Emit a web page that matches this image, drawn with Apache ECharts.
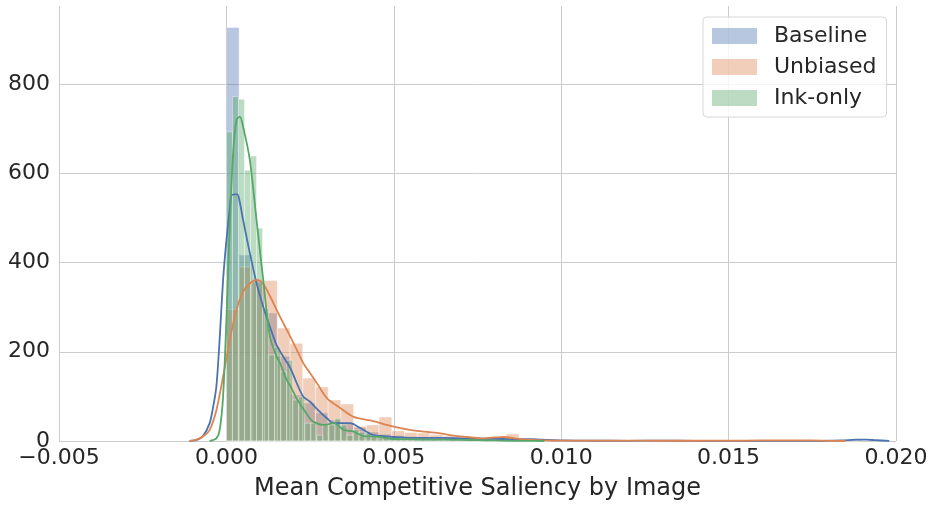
<!DOCTYPE html>
<html>
<head>
<meta charset="utf-8">
<script src="https://cdn.jsdelivr.net/npm/echarts@6/dist/echarts.min.js"></script>
<style>
  html, body { margin: 0; padding: 0; background: #fff; }
  #chart { width: 934px; height: 506px; }
</style>
</head>
<body>
<div id="chart"></div>
<script>
  // histogram heights (density), bins start at 0
  const seriesNames = ['Baseline', 'Unbiased', 'Ink-only']
  const baseBinWidth = 0.00038
  const baseHist = [927, 417, 355, 287, 190, 103, 85, 63, 47, 40, 30, 20, 15, 12, 10, 8, 6, 8, 7, 5,
    5, 4, 6, 4, 6, 3, 2, 2, 1, 1, 2, 1, 1, 0, 1, 0, 0, 0, 0, 0,
    0, 0, 0, 0, 0, 0, 0, 0, 1, 3]
  const unbBinWidth = 0.00038
  const unbHist = [295, 390, 362, 360, 253, 219, 141, 121, 92, 83, 33, 36, 54, 23, 19, 18, 14, 11, 9, 8,
    5, 6, 16, 3, 3, 2, 3, 2, 2, 1, 2, 1, 1, 1, 1, 0, 1, 1, 1, 2,
    2, 2, 2, 1, 1, 1]
  const inkBinWidth = 0.00018
  const inkHist = [693, 772, 766, 607, 639, 477, 297, 193, 211, 155, 181, 92, 99, 40, 40, 13, 36, 36, 51, 36,
    13, 25, 20, 18, 13, 11, 10, 8, 6, 5, 4, 6, 3, 2, 3, 2, 1, 2, 1, 1,
    1, 2, 1, 0, 1, 0, 0, 1, 0, 1]

  // kde curves
  const baseKdeX = [-0.0011, -0.0009, -0.0007, -0.0005, -0.0004, -0.0003, -0.0002, -0.0001, 0, 0.0001, 0.00015, 0.00025, 0.00033,
    0.0004, 0.0005, 0.0007, 0.0009, 0.0011, 0.0013, 0.0015, 0.0017, 0.0019, 0.0021, 0.0023, 0.0025, 0.0027,
    0.003, 0.0032, 0.0035, 0.0037, 0.004, 0.0042, 0.0044, 0.0047, 0.005, 0.0055, 0.006, 0.0065, 0.007, 0.0075,
    0.008, 0.0085, 0.009, 0.0095, 0.010, 0.0105, 0.011, 0.012, 0.013, 0.014, 0.015, 0.016, 0.017, 0.0178,
    0.0184, 0.0188, 0.0191, 0.0194, 0.0198]
  const baseKdeY = [0, 2, 11, 40, 75, 122, 230, 360, 450, 520, 551, 553, 553,
    535, 495, 421, 354, 301, 256, 215, 189, 165, 130, 99, 88, 72,
    51, 40, 40, 40, 29, 20, 13, 11, 9, 7, 7, 7, 6, 5,
    5, 4, 4, 2.5, 1.2, 0.8, 0.6, 0.5, 0.8, 0.3, 0.2, 0.1, 0.2, 0.5,
    1.5, 3, 3, 1.8, 0.3]
  const unbKdeX = [-0.0011, -0.0009, -0.0007, -0.0005, -0.0003, -0.0001, 0.0001, 0.0003, 0.0005, 0.0007, 0.0009,
    0.0011, 0.0013, 0.0015, 0.0017, 0.0019, 0.0021, 0.0023, 0.0025, 0.0027, 0.003, 0.0034, 0.0038, 0.0043,
    0.0049, 0.0054, 0.0059, 0.0064, 0.0068, 0.0072, 0.0076, 0.008, 0.0083, 0.0086, 0.009, 0.0095, 0.010,
    0.011, 0.012, 0.013, 0.014, 0.015, 0.016, 0.017, 0.0178, 0.0185]
  const unbKdeY = [0, 3, 10, 25, 69, 144, 226, 294, 335, 353, 361,
    352, 325, 294, 264, 235, 205, 174, 152, 130, 96, 74, 54, 46,
    34, 26, 21, 17, 12, 9, 6, 8, 9, 6, 3, 1.5, 1,
    0.8, 0.7, 0.6, 0.6, 0.8, 1.2, 1.4, 0.8, 0]
  const inkKdeX = [-0.0005, -0.0003, -0.0002, -0.0001, 0, 0.0001, 0.0002, 0.0003, 0.0004, 0.0005, 0.0007, 0.0009,
    0.0011, 0.0013, 0.0015, 0.0016, 0.0018, 0.0019, 0.0021, 0.0023, 0.0025, 0.0026, 0.0029, 0.0032, 0.0035,
    0.0038, 0.0041, 0.0045, 0.0049, 0.0055, 0.006, 0.0065, 0.007, 0.0075, 0.008, 0.0085, 0.009, 0.0095]
  const inkKdeY = [0, 6, 25, 99, 271, 480, 645, 719, 727, 704, 630, 495,
    361, 234, 189, 175, 137, 125, 95, 72, 50, 43, 36, 40, 25,
    21, 11, 10, 5, 4, 3, 3, 2.5, 2, 1.2, 0.6, 0.3, 0]

  const colors = ['#4C72B0', '#DD8452', '#55A868']
  const legendColors = ['rgba(76,114,176,0.4)', 'rgba(221,132,82,0.4)', 'rgba(85,168,104,0.4)']
  const textColor = '#262626'
  const gridColor = '#cccccc'

  function toBins(width, heights) {
    return heights.map((h, i) => [i * width, (i + 1) * width, h])
  }
  function zip(xs, ys) {
    return xs.map((x, i) => [x, ys[i]])
  }
  function histSeries(idx, data) {
    return {
      name: seriesNames[idx],
      type: 'custom',
      itemStyle: { color: legendColors[idx] },
      encode: { x: [0, 1], y: 2 },
      data: data,
      renderItem(params, api) {
        const h = api.value(2)
        if (!h) return null
        const p0 = api.coord([api.value(0), h])
        const p1 = api.coord([api.value(1), 0])
        return {
          type: 'rect',
          shape: { x: p0[0], y: p0[1], width: p1[0] - p0[0], height: p1[1] - p0[1] },
          style: { fill: colors[idx], stroke: '#ffffff', lineWidth: 1, opacity: 0.4 }
        }
      }
    }
  }
  function kdeSeries(idx, data) {
    return {
      type: 'line',
      data: data,
      smooth: 0.3,
      showSymbol: false,
      silent: true,
      lineStyle: { color: colors[idx], width: 1.8 },
      itemStyle: { color: colors[idx] }
    }
  }

  const chart = echarts.init(document.getElementById('chart'))
  chart.setOption({
    animation: false,
    textStyle: { fontFamily: 'DejaVu Sans' },
    grid: { left: 59, right: 38, top: 6, bottom: 65, outerBoundsMode: 'none' },
    legend: {
      orient: 'vertical',
      left: 703,
      top: 17,
      data: seriesNames,
      icon: 'rect',
      itemWidth: 45,
      itemHeight: 16,
      itemGap: 9,
      padding: [8, 10, 8, 9],
      backgroundColor: 'rgba(255,255,255,0.8)',
      borderColor: '#d6d6d6',
      borderWidth: 1,
      borderRadius: 4,
      textStyle: { fontSize: 22, color: textColor, padding: [0, 0, 0, 12] }
    },
    xAxis: {
      type: 'value',
      min: -0.005,
      max: 0.02,
      interval: 0.005,
      name: 'Mean Competitive Saliency by Image',
      nameLocation: 'middle',
      nameGap: 36,
      nameTextStyle: { fontSize: 24, color: textColor },
      axisLine: { show: false },
      axisTick: { show: false },
      axisLabel: {
        fontSize: 22,
        color: textColor,
        margin: 6,
        formatter(v) {
          if (Math.abs(v) < 1e-9) return '0.000'
          return (v < 0 ? '\u2212' : '') + Math.abs(v).toFixed(3)
        }
      },
      splitLine: { show: true, lineStyle: { color: gridColor, width: 1 } }
    },
    yAxis: {
      type: 'value',
      min: 0,
      max: 975,
      interval: 200,
      axisLine: { show: false },
      axisTick: { show: false },
      axisLabel: { fontSize: 22, color: textColor, margin: 9, showMaxLabel: false },
      splitLine: { show: true, showMaxLine: false, lineStyle: { color: gridColor, width: 1 } }
    },
    series: [
      histSeries(0, toBins(baseBinWidth, baseHist)),
      kdeSeries(0, zip(baseKdeX, baseKdeY)),
      histSeries(1, toBins(unbBinWidth, unbHist)),
      kdeSeries(1, zip(unbKdeX, unbKdeY)),
      histSeries(2, toBins(inkBinWidth, inkHist)),
      kdeSeries(2, zip(inkKdeX, inkKdeY))
    ]
  })
</script>
</body>
</html>
